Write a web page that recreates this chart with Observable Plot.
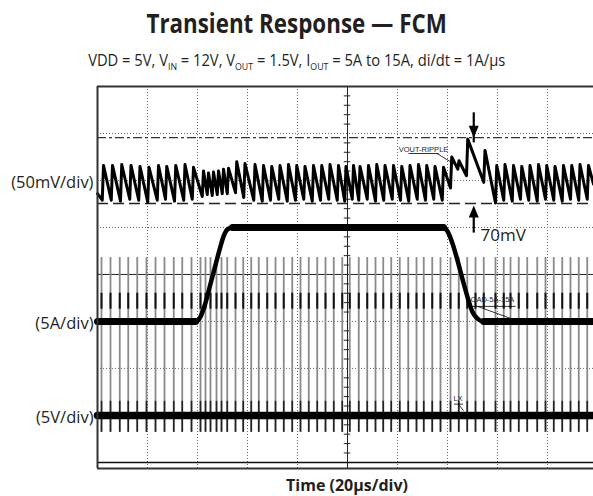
<!DOCTYPE html>
<html><head><meta charset="utf-8">
<script src="https://cdn.jsdelivr.net/npm/d3@7"></script>
<script src="https://cdn.jsdelivr.net/npm/@observablehq/plot@0.6"></script>
<style>
body{margin:0;background:#fff;width:593px;height:496px;overflow:hidden;position:relative;font-family:"Open Sans",sans-serif;color:#231f20}
.row{position:absolute;left:0;width:593px;text-align:center;white-space:nowrap}
.row span{display:inline-block;transform-origin:50% 50%}
#title{top:10px;font-weight:700;font-size:26px;line-height:26px}
#title span{transform:scaleX(0.86)}
#sub{top:52px;font-size:16px;line-height:16px}
#sub span{transform:scaleX(0.92)}
#sub sub{font-size:9.5px;vertical-align:baseline;position:relative;top:4px}
#chart{position:absolute;left:0;top:80px}
#xlab{position:absolute;left:97px;width:500px;top:477px;text-align:center;font-weight:700;font-size:16px;line-height:16px;white-space:nowrap}
</style></head><body>
<div id="title" class="row"><span>Transient Response — FCM</span></div>
<div id="sub" class="row"><span>VDD = 5V, V<sub>IN</sub> = 12V, V<sub>OUT</sub> = 1.5V, I<sub>OUT</sub> = 5A to 15A, di/dt = 1A/µs</span></div>
<div id="chart"></div>
<div id="xlab">Time (20µs/div)</div>
<script>
// ---- scope settings (20 µs/div horizontally, 8 vertical divisions) ----
const timeDomain = [0, 198.4];           // µs visible
const voutOffsetDiv = 6, voutScale = 50; // VOUT ripple: mV/div, ground marker at 6 div
const ioutZeroDiv = 2, ioutScale = 5;    // IOUT: A/div, 0 A at 2 div
const lxZeroDiv = 1, lxScale = 5;        // LX: V/div, 0 V at 1 div

// ---- channel labels ----
const chLabels = ["(50mV/div)", "(5A/div)", "(5V/div)"];
const chLevels = [6.0, 3.0, 1.0]; // div

// ---- VOUT ripple (AC, mV): tooth start times, peak and trough values ----
const voutStart = -14, voutFirstTrough = -21;
const voutT = [1.9, 5.5, 9.2, 12.9, 16.5, 20.1, 23.9, 27.2, 30.8, 34.5, 37.9, 41.9, 43.9, 45.9, 47.9, 49.9, 51.9, 55.2, 58.5, 62.5, 65.9, 69.2, 72.5, 75.9, 79.2, 82.5, 85.9, 89.2, 92.5, 95.9, 98.9, 101.9, 104.5, 107.9, 111.2, 114.5, 117.9, 121.2, 124.5, 127.9, 131.2, 134.5, 137.9, 141.2, 144.1, 147.6, 154.5, 159.2, 162.5, 165.9, 169.2, 172.5, 175.9, 179.2, 182.5, 185.9, 189.2, 192.5, 195.9];
const voutPk = [16, 16, 17, 16, 15, 14, 16, 15, 16, 17, 14, 10, 8, 9, 10, 12, 13, 20, 18, 17, 16, 15, 16, 17, 16, 15, 16, 16, 17, 16, 15, 16, 15, 16, 17, 16, 16, 15, 16, 17, 16, 15, 14, 25, 21, 44, 32, 16, 17, 16, 15, 16, 17, 16, 15, 16, 16, 17, 16];
const voutTr = [-21, -22, -20, -21, -23, -21, -20, -22, -21, -20, -17, -15, -16, -15, -14, -14, -13, -18, -21, -22, -21, -20, -22, -21, -20, -22, -21, -20, -21, -22, -20, -21, -20, -22, -21, -20, -21, -22, -20, -21, -20, -21, -8, 12, 5, -2, -24, -21, -22, -20, -21, -22, -20, -21, -22, -20, -21, -20, -4];

// ---- IOUT (A) ----
const iT = [0, 39.2, 41, 43, 45, 47, 49, 50.5, 52, 54, 138.4, 140, 142, 144, 146, 148, 150, 152, 154.5, 198.4];
const iA = [5, 5, 5.4, 6.8, 8.8, 10.8, 12.8, 14.1, 14.8, 15, 15, 14.6, 13.3, 11.5, 9.5, 7.6, 6.0, 5.3, 5, 5];

// ---- LX switching node (V): baseline and switching edges ----
const lxT = [0, 198.4];
const lxV = [0, 0];
const pulseT = [1.6, 5.2, 8.9, 12.3, 15.9, 19.6, 23.2, 26.8, 30.5, 33.9, 37.6, 41.2, 43.2, 45.2, 47.6, 49.6, 51.9, 55.2, 58.3, 61.5, 64.5, 67.9, 71.2, 74.5, 77.9, 81.2, 84.5, 87.9, 91.2, 94.5, 97.9, 100.9, 104.5, 107.9, 111.2, 114.3, 117.5, 120.9, 124.3, 127.6, 130.5, 133.9, 137.2, 141.2, 144.5, 147.9, 151.2, 154.5, 159.2, 162.5, 165.2, 168.5, 171.9, 175.9, 179.2, 182.5, 185.9, 189.2, 192.5, 195.9];
const pulseLow = -1.8, pulseHigh = 16.8, pulseFlatLo = 11.3, pulseFlatHi = 13;

// ---- cursors (mV on VOUT) and annotation ----
const cursorTop = 45.5, cursorBot = -24.5;
const deltaLabel = "70mV";
const arrowT = 150.5;

// conversions to screen divisions
const dV = mv => voutOffsetDiv + mv / voutScale;
const dI = a => ioutZeroDiv + a / ioutScale;
const dL = v => lxZeroDiv + v / lxScale;

// build ripple trace
const vout = [{t: 0, y: dV(voutStart)}];
voutT.forEach((t, i) => {
  vout.push({t, y: dV(i ? voutTr[i - 1] : voutFirstTrough)});
  vout.push({t: t + 0.5, y: dV(voutPk[i])});
});
vout.push({t: timeDomain[1], y: dV(voutTr[voutTr.length - 1])});

const iout = iT.map((t, k) => ({t, y: dI(iA[k])}));
// flat (noisy, thicker) stretches of the current trace
const iflat = iT.slice(0, -1).map((t, k) => ({t1: t, t2: iT[k + 1], a1: iA[k], a2: iA[k + 1]})).filter(s => s.a1 === s.a2);
const lx = lxT.map((t, k) => ({t, y: dL(lxV[k])}));

const yDomain = [-0.13, 8];
const gridX = [20, 40, 60, 80, 120, 140, 160, 180];
const gridY = [1, 2, 3, 5, 6, 7];
const centerT = 100, centerDiv = 4;
const minorY = d3.range(0.2, 8, 0.2).filter(v => Math.abs(v - Math.round(v)) > 1e-6);

const triDown = {draw(c) { c.moveTo(-5, -12); c.lineTo(5, -12); c.lineTo(0, 0); c.closePath(); }};
const triUp = {draw(c) { c.moveTo(-5, 12); c.lineTo(5, 12); c.lineTo(0, 0); c.closePath(); }};
const small = "'Liberation Sans Narrow','Liberation Sans',sans-serif";

const chart = Plot.plot({
  width: 593, height: 416,
  marginLeft: 97, marginRight: 0, marginTop: 6, marginBottom: 28,
  x: {domain: timeDomain, axis: null},
  y: {domain: yDomain, axis: null},
  style: {background: "#fff", overflow: "visible"},
  marks: [
    // graticule
    Plot.ruleX(gridX, {stroke: "#666", strokeDasharray: "1,2"}),
    Plot.ruleY(gridY, {stroke: "#666", strokeDasharray: "1,2"}),
    Plot.ruleX([centerT], {stroke: "#222", strokeWidth: 1}),
    Plot.ruleY([centerDiv], {stroke: "#222", strokeWidth: 1}),
    Plot.ruleY(minorY, {x1: centerT - 1.3, x2: centerT + 1.3, stroke: "#222"}),
    // cursors
    Plot.ruleY([dV(cursorTop)], {stroke: "#333", strokeWidth: 1.3, strokeDasharray: "9,3,3,3"}),
    Plot.ruleY([dV(cursorBot)], {stroke: "#222", strokeWidth: 1.5, strokeDasharray: "11,5"}),
    // LX switching edges
    Plot.ruleX(pulseT, {y1: dL(pulseLow), y2: dL(pulseHigh), stroke: "#8a8a8a", strokeWidth: 1.8}),
    Plot.ruleX(pulseT, {y1: dL(pulseFlatLo), y2: dL(pulseFlatHi), stroke: "#111", strokeWidth: 2}),
    Plot.ruleX(pulseT, {y1: dL(pulseLow), y2: dL(1.5), stroke: "#222", strokeWidth: 1.6}),
    // traces
    Plot.line(lx, {x: "t", y: "y", stroke: "#000", strokeWidth: 7.5}),
    Plot.line(iout, {x: "t", y: "y", stroke: "#000", strokeWidth: 4.5, curve: "monotone-x"}),
    Plot.link(iflat, {x1: "t1", x2: "t2", y1: d => dI(d.a1), y2: d => dI(d.a2), stroke: "#000", strokeWidth: 7, strokeLinecap: "round"}),
    Plot.line(vout, {x: "t", y: "y", stroke: "#000", strokeWidth: 3, strokeLinejoin: "round"}),
    // frame
    Plot.ruleY([yDomain[1]], {stroke: "#333", strokeWidth: 2}),
    Plot.ruleY([yDomain[0]], {stroke: "#333", strokeWidth: 2}),
    Plot.ruleY([0], {stroke: "#111", strokeWidth: 1.5}),
    Plot.ruleX([timeDomain[0]], {stroke: "#333", strokeWidth: 2}),
    // channel labels
    Plot.text(chLabels, {y: (d, i) => chLevels[i], text: d => d, frameAnchor: "left", dx: -4, dy: 2, textAnchor: "end", fontSize: 16.5, fill: "#231f20", fontFamily: "Open Sans"}),
    // cursor arrows
    Plot.ruleX([arrowT], {y1: dV(72), y2: dV(40), stroke: "#000", strokeWidth: 2.2}),
    Plot.dot([arrowT], {x: d => d, y: dV(cursorTop), symbol: triDown, fill: "#000", stroke: "none"}),
    Plot.ruleX([arrowT], {y1: dV(-56), y2: dV(-32), stroke: "#000", strokeWidth: 2.2}),
    Plot.dot([arrowT], {x: d => d, y: dV(cursorBot - 2), symbol: triUp, fill: "#000", stroke: "none"}),
    Plot.text([deltaLabel], {x: 153.2, y: dV(-58.5), text: d => d, textAnchor: "start", fontSize: 17, fill: "#231f20", fontFamily: "Open Sans"}),
    // probe labels
    Plot.text(["VOUT-RIPPLE"], {x: 130.4, y: dV(33), text: d => d, fontSize: 7.5, fontFamily: small}),
    Plot.link([0], {x1: 124.4, x2: 136.4, y1: dV(28.7), y2: dV(28.7), stroke: "#000", strokeWidth: 0.8}),
    Plot.link([0], {x1: 135.8, x2: 143.6, y1: dV(28.7), y2: dV(16), stroke: "#000", strokeWidth: 0.8}),
    Plot.text(["OAD-5A-15A"], {x: 158, y: dI(7.3), text: d => d, fontSize: 7.5, fontFamily: small}),
    Plot.link([0], {x1: 149.4, x2: 167.2, y1: dI(6.6), y2: dI(6.6), stroke: "#000", strokeWidth: 0.8}),
    Plot.link([0], {x1: 152, x2: 166.5, y1: dI(6.6), y2: dI(5.2), stroke: "#000", strokeWidth: 0.8}),
    Plot.text(["LX"], {x: 144.2, y: dL(1.8), text: d => d, fontSize: 7.5, fontFamily: small}),
    Plot.link([0], {x1: 142.6, x2: 146.2, y1: dL(1.2), y2: dL(1.2), stroke: "#000", strokeWidth: 0.8}),
    Plot.link([0], {x1: 144.4, x2: 146.4, y1: dL(1.2), y2: dL(0.5), stroke: "#000", strokeWidth: 0.8})
  ]
});
document.getElementById("chart").appendChild(chart);
</script>
</body></html>
